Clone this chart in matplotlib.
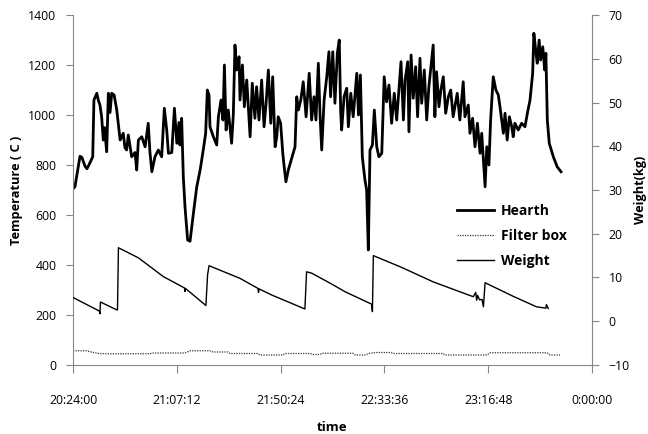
#!/usr/bin/env python3
# -*- coding: utf-8 -*-

import numpy as np
import matplotlib
matplotlib.use('Agg')
import matplotlib.pyplot as plt
from matplotlib.ticker import FuncFormatter, MultipleLocator

# time axis in minutes after 20:24:00
START_MIN = 20 * 60 + 24

hearth_t = [
    0.0, 0.8, 2.2, 2.9, 3.7, 5.0, 5.8, 7.1, 8.2, 8.7, 9.9, 10.5, 11.2, 11.9,
    12.6, 13.1, 14.0, 14.7, 15.4, 16.1, 17.1, 18.2, 19.6, 20.9, 21.6, 22.3,
    23.0, 24.4, 25.8, 26.5, 27.2, 28.6, 30.0, 31.3, 32.0, 32.8, 34.1, 35.5,
    36.9, 38.0, 39.0, 39.7, 41.1, 42.2, 43.2, 44.1, 44.5, 45.2, 45.9, 46.6,
    47.7, 48.7, 50.1, 51.5, 52.9, 54.2, 55.2, 55.9, 56.6, 57.0, 58.4, 59.8,
    60.5, 61.6, 62.4, 63.0, 63.7, 64.6, 66.0, 66.7, 67.4, 68.1, 69.1, 69.5,
    70.5, 71.3, 72.3, 73.7, 74.6, 75.7, 76.4, 77.4, 78.5, 79.5, 80.3, 81.3,
    82.3, 83.1, 84.1, 84.8, 85.4, 86.4, 87.3, 87.8, 88.6, 89.6, 91.0, 92.4,
    93.1, 93.8, 94.8, 95.8, 97.0, 98.3, 99.3, 100.3, 101.1, 102.1, 102.8,
    103.5, 104.5, 105.6, 106.5, 107.2, 108.1, 109.0, 110.0, 110.8, 111.4,
    111.8, 112.8, 113.9, 114.6, 115.6, 116.6, 118.1, 118.8, 119.6, 120.4,
    121.5, 122.2, 122.9, 123.6, 124.6, 125.4, 126.4, 127.3, 128.5, 129.5,
    130.5, 131.5, 132.6, 133.7, 134.7, 136.5, 137.5, 138.2, 139.3, 139.8,
    140.7, 141.6, 142.6, 143.4, 144.4, 145.1, 146.2, 147.2, 148.1, 149.9,
    150.6, 151.3, 152.3, 153.1, 154.1, 155.1, 156.2, 157.2, 158.2, 159.9,
    161.0, 162.4, 163.1, 164.5, 165.2, 166.3, 167.3, 168.3, 169.4, 170.1,
    170.8, 171.5, 172.2, 173.1, 173.8, 174.9, 176.0, 177.0, 177.7, 178.4,
    179.1, 179.8, 180.7, 181.6, 182.6, 183.2, 183.9, 185.3, 186.7, 188.1,
    189.1, 190.2, 191.3, 191.8, 192.7, 193.2, 194.0, 194.6, 195.5, 196.3,
    196.8, 197.4, 198.2, 199.9, 201.5, 203.1,
]
hearth_temp = [
    705, 713, 793, 835, 830, 795, 785, 810, 833, 1060, 1087, 1060, 1040, 993,
    900, 950, 853, 1087, 1010, 1087, 1080, 1020, 900, 927, 870, 860,
    920, 833, 850, 780, 900, 913, 873, 967, 853, 773, 833, 860,
    833, 1027, 940, 847, 850, 1027, 887, 970, 880, 987, 753, 633,
    500, 495, 607, 713, 780, 860, 927, 1100, 1080, 953, 913, 880,
    993, 1060, 980, 1200, 940, 1020, 887, 1000, 1280, 1180, 1233, 1060,
    1200, 1033, 1140, 913, 1127, 987, 1113, 980, 1140, 953, 1040, 1180,
    967, 1153, 873, 913, 993, 967, 847, 800, 733, 780, 827, 873,
    1073, 1020, 1060, 1133, 993, 1167, 980, 1073, 980, 1207, 1000,
    860, 1060, 1153, 1253, 1073, 1253, 1047, 1247, 1300, 1013,
    940, 1073, 1107, 953, 1087, 993, 1167, 1000, 1160, 833,
    740, 700, 460, 860, 880, 1020, 873, 833, 847, 1153,
    1053, 1120, 967, 1087, 980, 1213, 980, 1140, 1213, 933,
    1240, 1067, 1193, 993, 1227, 1047, 1180, 980, 1113, 1280,
    993, 1173, 1033, 1100, 1153, 1007, 1073, 1100, 993, 1087,
    980, 1133, 993, 1040, 927, 987, 873, 967, 847, 927,
    820, 713, 873, 800, 980, 1153, 1100, 1080, 1033, 980,
    927, 1007, 900, 993, 953, 913, 967, 940, 967, 953,
    1007, 1060, 1167, 1327, 1247, 1207, 1300, 1220, 1273, 1180,
    1247, 980, 887, 833, 793, 773,
]

filter_t = [
    0.0, 5.4, 7.1, 11.2, 32.0, 32.9, 46.6, 48.7, 57.0, 58.3, 64.5, 65.3,
    76.6, 77.8, 87.4, 88.2, 98.6, 99.5, 102.8, 103.6, 116.5, 117.4, 121.9,
    122.8, 126.1, 132.3, 133.2, 154.0, 154.8, 172.3, 173.5, 197.3, 198.5,
    202.7,
]
filter_temp = [
    57, 57, 53, 45, 45, 48, 48, 57, 57, 52, 52, 46,
    46, 40, 40, 46, 46, 42, 42, 47, 47, 40, 40,
    46, 50, 50, 46, 46, 40, 40, 49, 49, 40,
    40,
]

weight_t = [
    0.1, 10.9, 11.2, 11.4, 18.2, 18.5, 18.9, 27.2, 37.6, 46.4, 46.6, 46.8,
    55.3, 56.0, 56.6, 69.5, 77.0, 77.2, 77.4, 82.7, 96.5, 97.2, 99.3, 107.0,
    113.2, 124.3, 124.6, 125.0, 136.8, 149.9, 166.6, 167.6, 168.0, 168.4,
    169.2, 170.2, 170.8, 171.5, 183.2, 192.9, 196.8, 197.0, 197.8,
]
weight_kg = [
    5.4, 2.35, 1.7, 4.4, 2.6, 2.6, 16.8, 14.5, 10.2, 7.6, 6.8, 7.5,
    3.6, 10.6, 12.7, 9.8, 7.5, 6.6, 7.4, 6.0, 2.8, 11.3, 11.0, 8.7,
    6.75, 3.9, 2.2, 15.0, 12.3, 9.0, 5.6, 6.6, 4.8, 5.9,
    4.9, 5.0, 3.3, 8.8, 5.7, 3.3, 3.0, 3.8, 2.9,
]

x_ticks = [0, 43.2, 86.4, 129.6, 172.8, 216]


def fmt_time(m, pos):
    total = int(round((START_MIN + m) * 60))
    h = (total // 3600) % 24
    mm = (total // 60) % 60
    ss = total % 60
    return '%d:%02d:%02d' % (h, mm, ss)


plt.rcParams['font.family'] = ['Open Sans', 'DejaVu Sans']
plt.rcParams['font.size'] = 8.8

fig = plt.figure(figsize=(6.48, 4.34), dpi=100)
ax = fig.add_axes([0.1127, 0.159, 0.8009, 0.8064])
ax2 = ax.twinx()

spine_c = '#868686'

h1, = ax.plot(hearth_t, hearth_temp, color='black', lw=2.0, label='Hearth')
h2, = ax.plot(filter_t, filter_temp, color='#333333', lw=0.9, ls=(0, (1, 1)),
              label='Filter box')
h3, = ax2.plot(weight_t, weight_kg, color='black', lw=1.0, label='Weight')

ax.set_xlim(0, 216)
ax.set_ylim(0, 1400)
ax2.set_ylim(-10, 70)
ax.set_xticks(x_ticks)
ax.xaxis.set_major_formatter(FuncFormatter(fmt_time))
ax.yaxis.set_major_locator(MultipleLocator(200))
ax2.yaxis.set_major_locator(MultipleLocator(10))

for a in (ax, ax2):
    a.spines['top'].set_visible(False)
    for s in a.spines.values():
        s.set_color(spine_c)
ax.spines['right'].set_visible(False)
ax2.spines['left'].set_visible(False)
ax2.spines['bottom'].set_visible(False)

ax.tick_params(axis='y', direction='out', length=5, color=spine_c, pad=7)
ax.tick_params(axis='x', direction='out', length=6, color=spine_c, pad=15)
ax2.tick_params(axis='y', direction='out', length=5, color=spine_c, pad=7)

ax.set_ylabel('Temperature ( C )', fontweight='bold', fontsize=9.2,
              labelpad=4)
ax2.set_ylabel('Weight(kg)', fontweight='bold', fontsize=9.2, labelpad=3)
ax.set_xlabel('time', fontweight='bold', fontsize=9.5, labelpad=10)

leg = fig.legend([h1, h2, h3], ['Hearth', 'Filter box', 'Weight'],
                 loc='upper left', bbox_to_anchor=(450 / 648, 1 - 197 / 434),
                 frameon=False, borderpad=0, handlelength=2.7,
                 handletextpad=0.45, labelspacing=0.8,
                 prop={'weight': 'bold', 'size': 10})

fig.savefig('out.png', dpi=100)
